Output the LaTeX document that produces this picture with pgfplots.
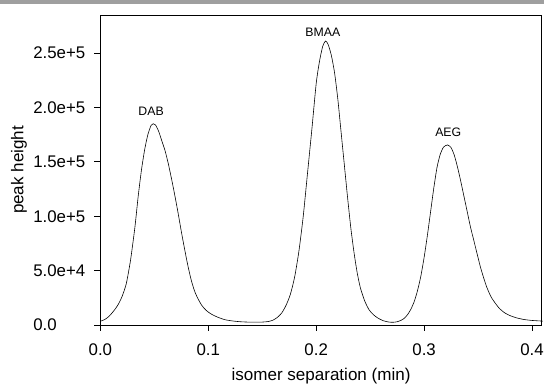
\documentclass[border=0pt]{standalone}
\usepackage{pgfplots}
\pgfplotsset{compat=1.18}
\usepackage{fontspec}
\setmainfont{Liberation Sans}
\begin{document}
\begin{tikzpicture}[x=1bp,y=1bp]
\pgfplotstableread{
x y
0.000 3500
0.004 5000
0.008 8000
0.012 12500
0.016 18000
0.020 26000
0.024 38000
0.028 60000
0.032 90000
0.035 118000
0.038 142000
0.041 161000
0.044 175000
0.047 183500
0.049 185000
0.051 184000
0.054 178000
0.057 169000
0.060 160000
0.063 148000
0.066 134000
0.069 119000
0.072 103000
0.075 86000
0.078 70000
0.081 55000
0.084 42000
0.087 32000
0.090 25000
0.094 18000
0.098 13500
0.102 10500
0.108 7500
0.115 5000
0.122 3800
0.130 3000
0.140 2600
0.150 2700
0.156 3300
0.160 4500
0.164 7000
0.168 11000
0.172 18000
0.176 28000
0.180 44000
0.184 68000
0.188 100000
0.192 140000
0.196 180000
0.200 222000
0.203 242000
0.206 256000
0.2086 261000
0.211 258000
0.214 248000
0.217 232000
0.220 208000
0.223 178000
0.226 148000
0.229 118000
0.232 90000
0.235 67000
0.238 48000
0.241 34000
0.245 22000
0.249 14000
0.253 9500
0.257 6500
0.262 4000
0.267 2800
0.271 2500
0.275 3000
0.279 4500
0.282 6500
0.285 10000
0.288 15000
0.291 22000
0.294 32000
0.297 45000
0.300 62000
0.303 82000
0.306 104000
0.309 126000
0.312 145000
0.315 157000
0.318 163500
0.3217 165500
0.325 163000
0.328 156000
0.331 145000
0.334 132000
0.337 118000
0.340 104000
0.343 90000
0.346 78000
0.349 66000
0.352 54000
0.355 44000
0.358 35000
0.362 26000
0.366 20000
0.370 15000
0.375 11000
0.380 8500
0.386 6500
0.393 5000
0.400 4200
0.410 3600
}\chrom
\fill[gray!75] (-101,323) rectangle (446,327);
\path (-101,-59) rectangle (446,327);
\begin{axis}[
  at={(0,0)}, anchor=origin,
  scale only axis, width=444bp, height=312bp,
  xmin=0, xmax=0.409, ymin=0, ymax=285000,
  xtick={0,0.1,0.2,0.3,0.4},
  xticklabels={0.0,0.1,0.2,0.3,0.4},
  ytick={0,50000,100000,150000,200000,250000},
  yticklabels={0.0,5.0e+4,1.0e+5,1.5e+5,2.0e+5,2.5e+5},
  scaled ticks=false,
  tick align=outside, xtick pos=bottom, ytick pos=left,
  major tick length=6bp,
  tick style={black, line width=0.7pt},
  axis line style={black, line width=0.7pt},
  ticklabel style={font=\fontsize{17}{19}\selectfont},
  xticklabel style={yshift=-9bp},
  yticklabel style={text width=53bp, align=left, xshift=-5bp},
  xlabel={isomer separation (min)}, ylabel={peak height},
  label style={font=\fontsize{17.2}{19}\selectfont},
  xlabel style={at={(axis description cs:0.5,-0.1635)}, anchor=center},
  ylabel style={at={(axis description cs:-0.1847,0.5)}, anchor=center},
  clip=false,
]
\addplot[black, line width=0.6pt, smooth, tension=0.4] table[x=x,y=y]{\chrom};
\node[font=\fontsize{12.4}{14}\selectfont] at (axis cs:0.0470,196000) {DAB};
\node[font=\fontsize{12.4}{14}\selectfont] at (axis cs:0.2062,269400) {BMAA};
\node[font=\fontsize{12.4}{14}\selectfont] at (axis cs:0.3224,177500) {AEG};
\end{axis}
\end{tikzpicture}
\end{document}
